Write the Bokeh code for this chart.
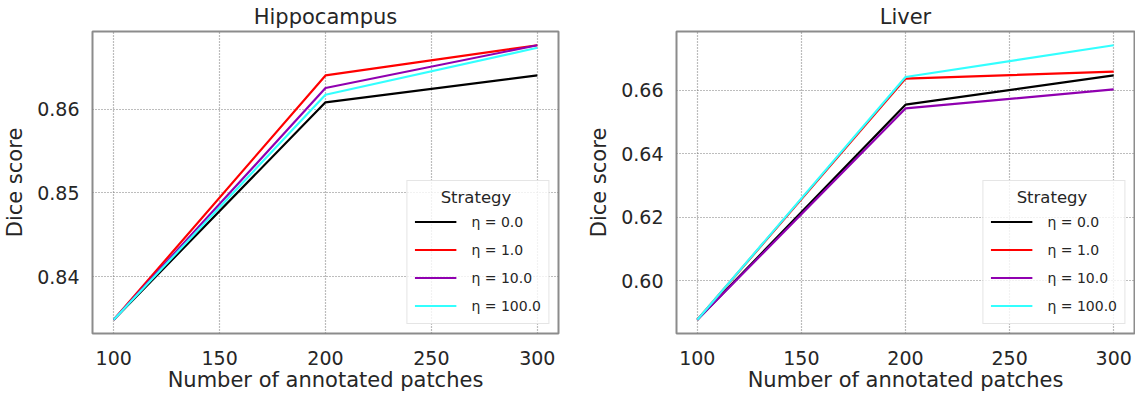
from bokeh.plotting import figure
from bokeh.layouts import row
from bokeh.models import (Legend, LegendItem, FixedTicker, NumeralTickFormatter, Range1d,
                          GlobalInlineStyleSheet)
from bokeh.embed import file_html
from bokeh.resources import INLINE

patches = [100, 200, 300]
labels = ["η = 0.0", "η = 1.0", "η = 10.0", "η = 100.0"]
colors = ["#000000", "#ff0000", "#9000b0", "#33ffff"]

hippo_eta0 = [0.8349, 0.8608, 0.8640]
hippo_eta1 = [0.8349, 0.8640, 0.8676]
hippo_eta10 = [0.8349, 0.8625, 0.8676]
hippo_eta100 = [0.8349, 0.8617, 0.8673]

liver_eta0 = [0.5877, 0.6554, 0.6646]
liver_eta1 = [0.5877, 0.6636, 0.6658]
liver_eta10 = [0.5877, 0.6542, 0.6602]
liver_eta100 = [0.5877, 0.6641, 0.6741]

hippo_yticks = [0.84, 0.85, 0.86]
liver_yticks = [0.60, 0.62, 0.64, 0.66]
xticks = [100, 150, 200, 250, 300]

TXT = "#262626"
FONT = "DejaVu Sans"
NB = "\u00a0"


def make(title, series, yticks, fw, bl, br):
    allv = [v for s in series for v in s]
    lo, hi = min(allv), max(allv)
    pad = (hi - lo) * 0.05
    p = figure(frame_width=fw, frame_height=302, output_backend="svg", toolbar_location=None,
               x_range=Range1d(90, 310), y_range=Range1d(lo - pad, hi + pad),
               min_border_left=bl, min_border_right=br, min_border_top=0, min_border_bottom=0)
    p.title.text = title
    p.title.align = "center"
    p.title.text_font = FONT
    p.title.text_font_size = "21px"
    p.title.text_font_style = "normal"
    p.title.text_color = TXT
    p.title.standoff = 5
    p.outline_line_color = "#8c8c8c"
    p.outline_line_width = 2
    p.background_fill_color = "white"
    p.border_fill_color = "white"
    for ax in (p.xaxis, p.yaxis):
        ax.axis_line_color = None
        ax.major_tick_line_color = None
        ax.minor_tick_line_color = None
        ax.major_tick_out = 0
        ax.major_tick_in = 0
        ax.major_label_text_font = FONT
        ax.major_label_text_font_size = "19px"
        ax.major_label_text_color = TXT
        ax.axis_label_text_font = FONT
        ax.axis_label_text_font_size = "21px"
        ax.axis_label_text_font_style = "normal"
        ax.axis_label_text_color = TXT
    p.xaxis.axis_label = "Number of annotated patches"
    p.yaxis.axis_label = "Dice score"
    p.xaxis.ticker = FixedTicker(ticks=xticks)
    p.yaxis.ticker = FixedTicker(ticks=yticks)
    p.yaxis.formatter = NumeralTickFormatter(format="0.00")
    p.xaxis.major_label_standoff = 17
    p.yaxis.major_label_standoff = 13
    p.xaxis.axis_label_standoff = 0
    p.yaxis.axis_label_standoff = 7
    p.grid.grid_line_color = "#7a7a7a"
    p.grid.grid_line_dash = "1 2"
    p.grid.grid_line_width = 1.2
    items = []
    for s, lab, c in zip(series, labels, colors):
        r = p.line(patches, s, line_color=c, line_width=2.2)
        items.append(LegendItem(label=lab, renderers=[r]))
    leg = Legend(items=items, location="bottom_right", title=NB * 5 + "Strategy")
    leg.title_text_font = FONT
    leg.title_text_font_size = "16.5px"
    leg.title_text_font_style = "normal"
    leg.title_text_color = TXT
    leg.title_standoff = 4
    leg.label_text_font = FONT
    leg.label_text_font_size = "14px"
    leg.label_text_color = TXT
    leg.glyph_width = 42
    leg.glyph_height = 21
    leg.label_height = 21
    leg.spacing = 7
    leg.padding = 7
    leg.margin = 9
    leg.label_standoff = 15
    leg.border_line_color = "#cccccc"
    leg.border_line_width = 1
    leg.background_fill_alpha = 0.8
    p.add_layout(leg, "center")
    return p


p1 = make("Hippocampus", [hippo_eta0, hippo_eta1, hippo_eta10, hippo_eta100], hippo_yticks, 466, 88, 10)
p2 = make("Liver", [liver_eta0, liver_eta1, liver_eta10, liver_eta100], liver_yticks, 458, 108, 1)
lay = row(p1, p2, stylesheets=[GlobalInlineStyleSheet(css="html, body { overflow: hidden; }")])
open("out.html", "w").write(file_html(lay, INLINE))
